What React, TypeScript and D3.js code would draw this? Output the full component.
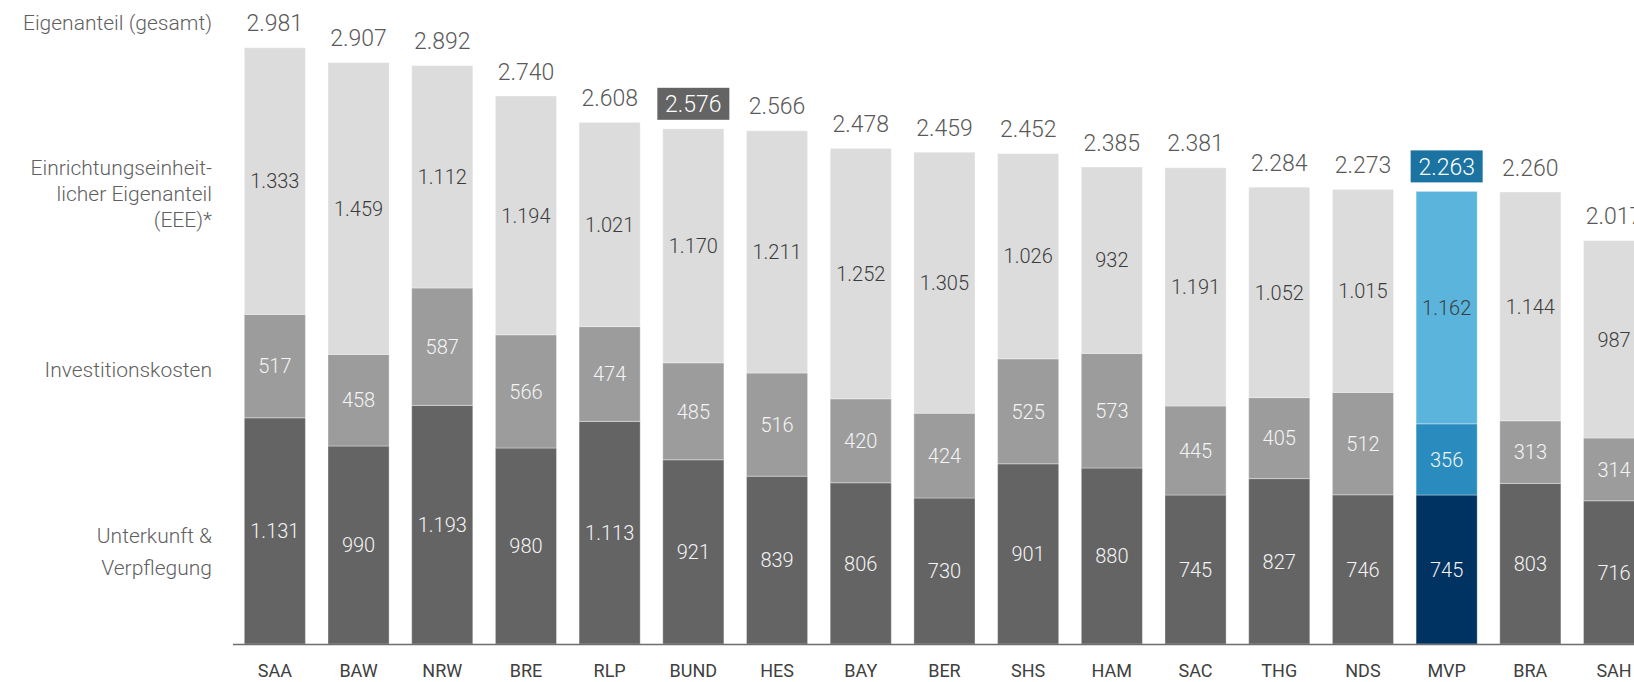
import React from "react";
import * as d3 from "d3";

const categories = ["SAA", "BAW", "NRW", "BRE", "RLP", "BUND", "HES", "BAY", "BER", "SHS", "HAM", "SAC", "THG", "NDS", "MVP", "BRA", "SAH"];
const unterkunft = [1131, 990, 1193, 980, 1113, 921, 839, 806, 730, 901, 880, 745, 827, 746, 745, 803, 716];
const investition = [517, 458, 587, 566, 474, 485, 516, 420, 424, 525, 573, 445, 405, 512, 356, 313, 314];
const eee = [1333, 1459, 1112, 1194, 1021, 1170, 1211, 1252, 1305, 1026, 932, 1191, 1052, 1015, 1162, 1144, 987];
const totals = [2981, 2907, 2892, 2740, 2608, 2576, 2566, 2478, 2459, 2452, 2385, 2381, 2284, 2273, 2263, 2260, 2017];
const seriesNames = ["Unterkunft & Verpflegung", "Investitionskosten", "EEE"];
const highlightBund = "BUND";
const highlightMvp = "MVP";

const W = 1634;
const H = 682;
const FONT = "Roboto, 'Open Sans', sans-serif";

const grayColors = ["#646464", "#9c9c9c", "#dcdcdc"];
const blueColors = ["#003262", "#2a8cbe", "#5ab4dc"];
const labelColors = ["#f4f4f4", "#f4f4f4", "#3c3c3c"];

const locale = d3.formatLocale({ decimal: ",", thousands: ".", grouping: [3], currency: ["", "€"] });
const fmt = locale.format(",d");

export default function App() {
  const x = d3.scaleBand<string>().domain(categories).range([233, 233 + 17 * 83.7]).paddingInner(0.27).paddingOuter(0.135);
  const y = d3.scaleLinear().domain([0, 3000]).range([644, 44]);

  const rows = categories.map((c, i) => ({ cat: c, v0: unterkunft[i], v1: investition[i], v2: eee[i] }));
  const stack = d3.stack<any>().keys(["v0", "v1", "v2"])(rows);

  const bw = x.bandwidth();

  return (
    <svg width={W} height={H} style={{ position: "absolute", left: 0, top: 0, background: "#fff" }} fontFamily={FONT}>
      {/* left side labels */}
      <g fill="#5f5f5f" fontSize={21} fontWeight={300} textAnchor="end">
        <text x={212} y={30}>Eigenanteil (gesamt)</text>
        <text x={212} y={175}>Einrichtungseinheit-</text>
        <text x={212} y={201}>licher Eigenanteil</text>
        <text x={212} y={227}>(EEE)*</text>
        <text x={212} y={377}>Investitionskosten</text>
        <text x={212} y={543}>Unterkunft &amp;</text>
        <text x={212} y={575}>Verpflegung</text>
      </g>

      {/* stacked bars */}
      {stack.map((layer, si) => (
        <g key={seriesNames[si]}>
          {layer.map((d: any, i: number) => {
            const cat = categories[i];
            const isMvp = cat === highlightMvp;
            const x0 = x(cat)!;
            const yTop = y(d[1]);
            const yBot = y(d[0]);
            const val = d[1] - d[0];
            return (
              <g key={cat}>
                <rect
                  x={x0}
                  y={yTop}
                  width={bw}
                  height={yBot - yTop}
                  fill={isMvp ? blueColors[si] : grayColors[si]}
                  stroke="#ffffff"
                  strokeOpacity={0.35}
                  strokeWidth={1}
                />
                <text
                  x={x0 + bw / 2}
                  y={(yTop + yBot) / 2}
                  dy="0.36em"
                  textAnchor="middle"
                  fontSize={20}
                  fontWeight={300}
                  fill={labelColors[si]}
                >
                  {fmt(val)}
                </text>
              </g>
            );
          })}
        </g>
      ))}

      {/* totals */}
      {categories.map((cat, i) => {
        const cx = x(cat)! + bw / 2;
        const top = y(totals[i]);
        const boxed = cat === highlightBund || cat === highlightMvp;
        const boxFill = cat === highlightMvp ? "#1a73a1" : "#646464";
        return (
          <g key={"t" + cat}>
            {boxed && <rect x={cx - 36} y={top - 41} width={72} height={32} fill={boxFill} />}
            <text
              x={cx}
              y={top - 16.5}
              textAnchor="middle"
              fontSize={23}
              fontWeight={300}
              fill={boxed ? "#ffffff" : "#595959"}
            >
              {fmt(totals[i])}
            </text>
          </g>
        );
      })}

      {/* axis */}
      <line x1={233} x2={233 + 17 * 83.7} y1={644.5} y2={644.5} stroke="#6e6e6e" strokeWidth={1.5} />
      <g fontSize={18} fill="#404040" textAnchor="middle" fontWeight={400}>
        {categories.map((cat) => (
          <text key={"c" + cat} x={x(cat)! + bw / 2} y={677}>
            {cat}
          </text>
        ))}
      </g>
    </svg>
  );
}
